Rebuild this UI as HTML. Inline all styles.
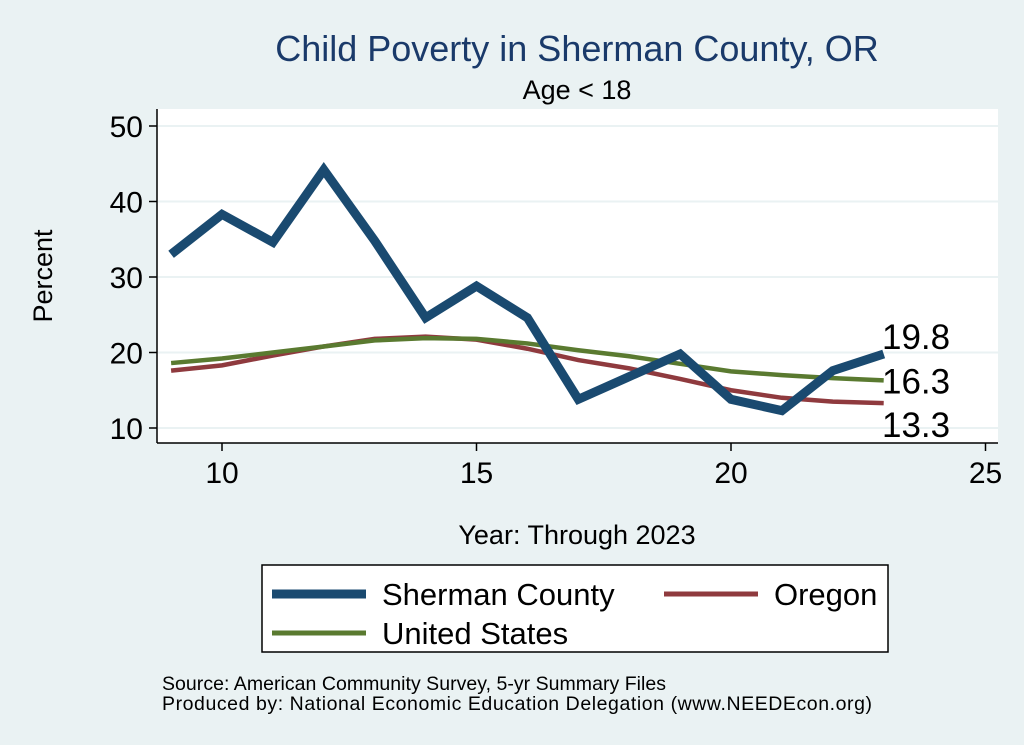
<!DOCTYPE html>
<html><head><meta charset="utf-8"><style>
body{margin:0;background:#eaf2f3;}
svg{display:block;font-family:"Liberation Sans",Arial,sans-serif;}
</style></head><body>
<svg id="chart" width="1024" height="745" viewBox="0 0 1024 745">
<rect x="0" y="0" width="1024" height="745" fill="#eaf2f3"/>
<text x="577" y="61" text-anchor="middle" font-size="36" fill="#1a3a6a">Child Poverty in Sherman County, OR</text>
<text x="577" y="99" text-anchor="middle" font-size="27" fill="#000">Age &lt; 18</text>
<rect x="157" y="109" width="841" height="334" fill="#fff"/>
<g id="grid"></g>
<g id="axes"></g>
<g id="series"></g>
<text transform="translate(52,276) rotate(-90)" text-anchor="middle" font-size="27">Percent</text>
<text x="577" y="544" text-anchor="middle" font-size="27">Year: Through 2023</text>
<g>
<rect x="262" y="565" width="626" height="87" fill="#fff" stroke="#000" stroke-width="1.5"/>
<line x1="272" y1="594" x2="366" y2="594" stroke="#1a4a70" stroke-width="9"/>
<text x="382" y="605" font-size="31">Sherman County</text>
<line x1="664" y1="594" x2="758" y2="594" stroke="#8f3a3e" stroke-width="5"/>
<text x="774" y="605" font-size="31">Oregon</text>
<line x1="272" y1="633" x2="366" y2="633" stroke="#5a7a30" stroke-width="5"/>
<text x="382" y="644" font-size="31">United States</text>
</g>
<text x="162" y="690" font-size="19.5" textLength="504">Source: American Community Survey, 5-yr Summary Files</text>
<text x="162" y="710" font-size="19.5" textLength="710">Produced by: National Economic Education Delegation (www.NEEDEcon.org)</text>
</svg>
<script>
const years=[9,10,11,12,13,14,15,16,17,18,19,20,21,22,23];
const sherman=[33,38.3,34.6,44.2,34.8,24.6,28.8,24.6,13.8,16.8,19.8,13.8,12.3,17.6,19.8];
const oregon=[17.6,18.3,19.6,20.8,21.8,22.1,21.7,20.5,19.0,17.9,16.5,15.0,14.0,13.5,13.3];
const us=[18.6,19.2,20.0,20.8,21.6,21.9,21.8,21.2,20.3,19.5,18.5,17.5,17.0,16.6,16.3];
const yTicks=[10,20,30,40,50];
const xTicks=[10,15,20,25];
const endLabels=["19.8","16.3","13.3"];
const NS="http://www.w3.org/2000/svg";
function X(v){return 222+(v-10)*50.9;}
function Y(v){return 428-(v-10)*7.55;}
function mk(t,a,p){const e=document.createElementNS(NS,t);for(const k in a)e.setAttribute(k,a[k]);p.appendChild(e);return e;}
const grid=document.getElementById('grid'),axes=document.getElementById('axes'),ser=document.getElementById('series');
mk('line',{x1:157,y1:109,x2:157,y2:443,stroke:'#000','stroke-width':1.5},axes);
mk('line',{x1:157,y1:443,x2:998,y2:443,stroke:'#000','stroke-width':1.5},axes);
yTicks.forEach(t=>{
 const g=mk('line',{x1:158,y1:Y(t),x2:998,y2:Y(t),stroke:'#eaf2f3','stroke-width':2},grid);
 
 
 mk('line',{x1:149,y1:Y(t),x2:157,y2:Y(t),stroke:'#000','stroke-width':1.5},axes);
 const tx=mk('text',{x:143,y:Y(t)+11,'text-anchor':'end','font-size':30},axes);tx.textContent=t;
 
 
});
xTicks.forEach(t=>{
 mk('line',{x1:X(t),y1:443,x2:X(t),y2:451,stroke:'#000','stroke-width':1.5},axes);
 const tx=mk('text',{x:X(t),y:483,'text-anchor':'middle','font-size':30},axes);tx.textContent=t;
 
 
});
function line(vals,color,w,name){
 const p=mk('polyline',{points:vals.map((v,i)=>X(years[i])+','+Y(v)).join(' '),fill:'none',stroke:color,'stroke-width':w,'stroke-linejoin':'miter'},ser);
 
 
}
line(oregon,'#8f3a3e',4.5,'line-oregon');
line(us,'#5a7a30',4.5,'line-us');
line(sherman,'#1a4a70',9,'line-sherman');
const last=years.length-1;
[[sherman[last],-5],[us[last],13],[oregon[last],34]].forEach((d,i)=>{
 const tx=mk('text',{x:882,y:Y(d[0])+d[1],'font-size':35},ser);tx.textContent=endLabels[i];
 
 
});
</script>
</body></html>
